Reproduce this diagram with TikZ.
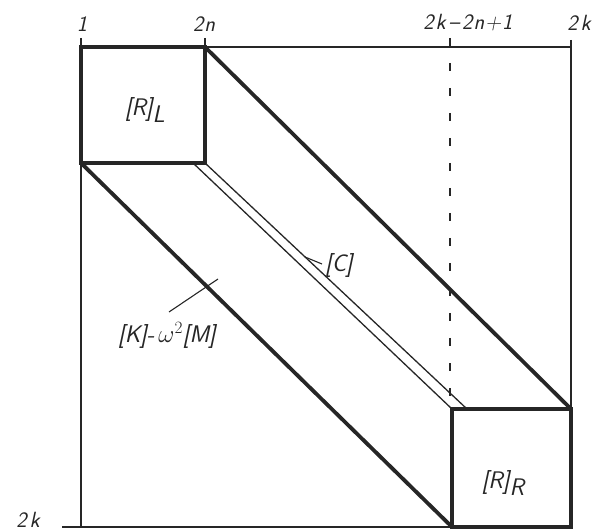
\documentclass[tikz,border=0pt]{standalone}
\usepackage{fontspec}
\usepackage{tikz}
\begin{document}
\begin{tikzpicture}[x=1pt,y=-1pt,
  thinln/.style={line width=1.4pt,black!85},
  thickln/.style={line width=3.8pt,black!85,line join=miter},
  diagthin/.style={line width=1.3pt,black!85},
  lbl/.style={font=\fontsize{24}{26}\selectfont\sffamily\slshape,inner sep=0pt,black!85},
  toplbl/.style={font=\fontsize{22}{24}\selectfont\sffamily\slshape,inner sep=0pt,black!85}]
\useasboundingbox (0,0) rectangle (598,532);
% corners
\coordinate (TL) at (81,47);
\coordinate (TR) at (571,47);
\coordinate (BL) at (81,527);
\coordinate (LT1) at (81,38);
\coordinate (RT1) at (571,40);
\coordinate (BLext) at (62,527);
\coordinate (T2n) at (205,38);
\coordinate (Td) at (450,38);
\coordinate (Bd) at (450,409);
\coordinate (RLa) at (81,47);
\coordinate (RLb) at (205,163);
\coordinate (RRa) at (452,409);
\coordinate (RRb) at (571,527);
\coordinate (RLtr) at (205,47);
\coordinate (RLbl) at (81,163);
\coordinate (RRtr) at (571,409);
\coordinate (RRbl) at (452,527);
\coordinate (C1a) at (205,163);
\coordinate (C1b) at (467,409);
\coordinate (C2a) at (193,163);
\coordinate (C2b) at (452,409);
\coordinate (Ka) at (169,312);
\coordinate (Kb) at (218,279);
\coordinate (Ca) at (305,257);
\coordinate (Cb) at (322,264);
% frame
\draw[thinln] (LT1) -- (BL);
\draw[thinln] (TL) -- (TR);
\draw[thinln] (RT1) -- (RRtr);
\draw[thinln] (BLext) -- (RRbl);
\draw[thinln] (T2n) -- (RLtr);
\draw[line width=1.3pt,black!85,dash pattern=on 8pt off 17pt] (Td) -- (Bd);
% thin diagonals
\draw[diagthin] (C1a) -- (C1b);
\draw[diagthin] (C2a) -- (C2b);
% thick diagonals
\draw[thickln] (RLtr) -- (RRtr);
\draw[thickln] (RLbl) -- (RRbl);
% boxes
\draw[thickln] (RLa) rectangle (RLb);
\draw[thickln] (RRa) rectangle (RRb);
% leaders
\draw[line width=1.1pt,black!85] (Ka) -- (Kb);
\draw[line width=1.1pt,black!85] (Ca) -- (Cb);
% labels
\node[toplbl] (l1) at (82,24) {1};
\node[toplbl] (l2n) at (204,24) {2\kern1pt n};
\node[toplbl] (l2k2n) at (468,23) {2\kern2pt k\kern3pt--\kern3pt 2\kern1pt n\kern1pt+\kern1pt 1};
\node[toplbl] (l2k) at (579,23) {2\kern3pt k};
\node[toplbl] (l2kb) at (28,520) {2\kern3pt k};
\node[lbl] (RL) at (145,110) {[R]\raisebox{-0.3em}{L}};
\node[lbl] (RR) at (503,483) {[R]\raisebox{-0.3em}{R}};
\node[lbl] (C) at (339,266) {[C]};
\node[lbl] (K) at (167,335) {[K]-\,$\omega^2$[M]};
\end{tikzpicture}
\end{document}
